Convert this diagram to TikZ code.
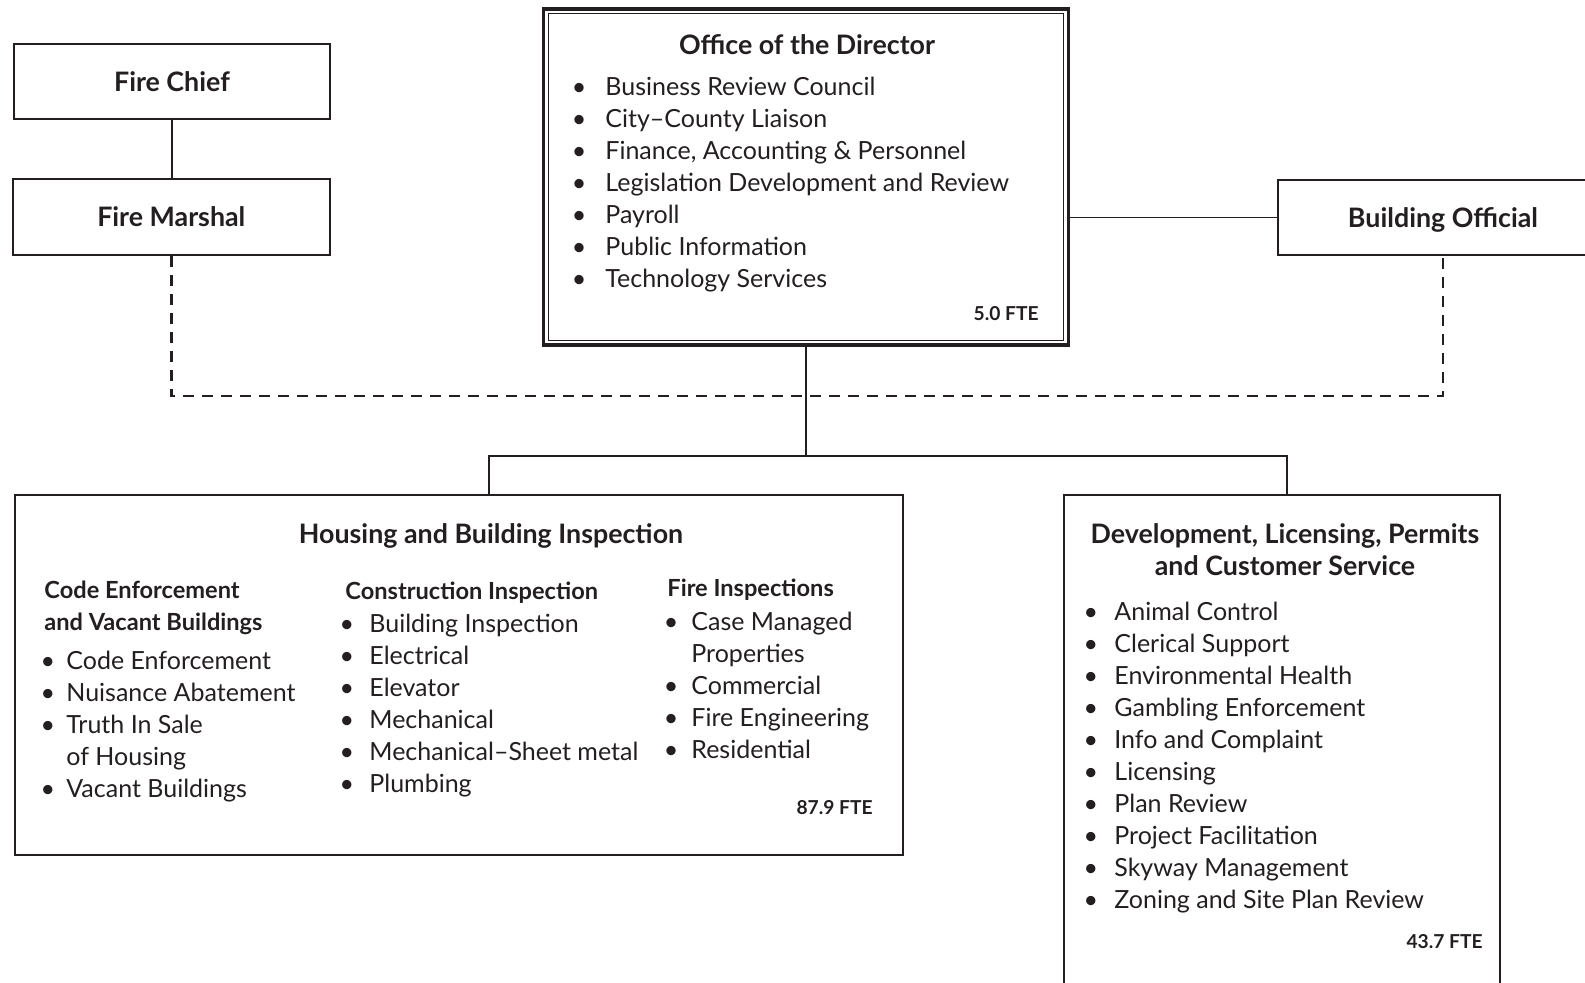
\documentclass[tikz,border=0pt]{standalone}
\usepackage{fontspec}
\setmainfont{Lato}

\definecolor{ink}{RGB}{35,31,32}

\newlength{\blgap}
\newcommand{\bl}{\llap{\textbullet\hspace{\blgap}}}
\newcommand{\bodyfont}{\fontsize{12.5}{16}\selectfont}
\newcommand{\headfont}{\fontsize{13.4}{16}\selectfont\bfseries}
\newcommand{\subfont}{\fontsize{11.8}{16}\selectfont\bfseries}
\newcommand{\ftefont}{\fontsize{9.6}{12}\selectfont\bfseries}

\begin{document}
\begin{tikzpicture}[x=0.5pt,y=-0.5pt]

    \tikzset{
      box/.style={
        draw=ink,
        line width=1pt,
        inner sep=0pt,
        text=ink,
      },
      title/.style={
        font=\headfont,
        text height=10pt,
        text depth=0pt,
      },
      list/.style={
        anchor=base west,
        align=left,
        inner sep=0pt,
        text=ink,
        font=\bodyfont,
      },
      subhead/.style={
        anchor=base west,
        align=left,
        inner sep=0pt,
        text=ink,
        font=\subfont,
      },
      fte/.style={
        anchor=base east,
        inner sep=0pt,
        text=ink,
        font=\ftefont,
      },
      link/.style={draw=ink, line width=0.8pt},
      dashline/.style={draw=ink, line width=1.25pt, dash pattern=on 5.5pt off 4pt},
    }

	\useasboundingbox (0,0) rectangle (1585,983);

	% fire side
	\node[box,title,minimum width=158pt,minimum height=37.5pt] (fc) at (172,81.6) {Fire Chief};
	\node[box,title,minimum width=158.6pt,minimum height=38pt] (fm) at (171.3,217) {Fire Marshal};
	\draw[link] (fc.south) -- (fc.south |- fm.north);

	% director (multi-line nodes sit on their last baseline)
	\node[box,line width=1.6pt,minimum width=262.5pt,minimum height=168pt] (dir) at (806,177) {};
	\draw[draw=ink,line width=0.5pt] ([shift={(3.2pt,-3.2pt)}]dir.north west) rectangle ([shift={(-3.2pt,3.2pt)}]dir.south east);
	\node[anchor=base,inner sep=0pt,text=ink,font=\headfont] (dir-t) at (807,55) {Office of the Director};
	\node[list,execute at begin node={\setlength{\blgap}{9.5pt}}] (dir-l) at (605,288) {%
	  \bl Business Review Council\\
	  \bl City–County Liaison\\
	  \bl Finance, Accounting \& Personnel\\
	  \bl Legislation Development and Review\\
	  \bl Payroll\\
	  \bl Public Information\\
	  \bl Technology Services};
	\node[fte] (dir-f) at (1039,321) {5.0 FTE};

	% building official
	\node[box,title,minimum width=165pt,minimum height=37.5pt] (bo) at (1443,217.5) {Building Official};
	\draw[link] (bo.west) -- (bo.west -| dir.east);

	% dashed tie
	\coordinate (dl) at (1443,396);
	\draw[dashline] (fm.south) |- (dl) -- (bo.south);

	% housing and building inspection
	\node[box,minimum width=444pt,minimum height=180pt] (hbi) at (459,675) {};
	\node[anchor=base,inner sep=0pt,text=ink,font=\headfont] (hbi-t) at (491,544) {Housing and Building Inspection};
	\node[subhead] (hbi-ce) at (44,631) {Code Enforcement\\and Vacant Buildings};
	\node[list,execute at begin node={\setlength{\blgap}{5.6pt}}] (hbi-ce-l) at (66,797) {%
	  \bl Code Enforcement\\
	  \bl Nuisance Abatement\\
	  \bl Truth In Sale\\
	  of Housing\\
	  \bl Vacant Buildings};
	\node[subhead] (hbi-ci) at (345,600) {Construction Inspection};
	\node[list,execute at begin node={\setlength{\blgap}{7.7pt}}] (hbi-ci-l) at (369,792) {%
	  \bl Building Inspection\\
	  \bl Electrical\\
	  \bl Elevator\\
	  \bl Mechanical\\
	  \bl Mechanical–Sheet metal\\
	  \bl Plumbing};
	\node[subhead] (hbi-fi) at (667,597) {Fire Inspections};
	\node[list,execute at begin node={\setlength{\blgap}{6.5pt}}] (hbi-fi-l) at (691,758) {%
	  \bl Case Managed\\
	  Properties\\
	  \bl Commercial\\
	  \bl Fire Engineering\\
	  \bl Residential};
	\node[fte] (hbi-f) at (873,814) {87.9 FTE};

	% development, licensing, permits
	\node[box,minimum width=218pt,minimum height=260pt] (dlp) at (1282,755) {};
	\node[anchor=base,align=center,inner sep=0pt,text=ink,font=\headfont] (dlp-t) at (1285,576) {Development, Licensing, Permits\\and Customer Service};
	\node[list,execute at begin node={\setlength{\blgap}{8.1pt}}] (dlp-l) at (1114,908) {%
	  \bl Animal Control\\
	  \bl Clerical Support\\
	  \bl Environmental Health\\
	  \bl Gambling Enforcement\\
	  \bl Info and Complaint\\
	  \bl Licensing\\
	  \bl Plan Review\\
	  \bl Project Facilitation\\
	  \bl Skyway Management\\
	  \bl Zoning and Site Plan Review};
	\node[fte] (dlp-f) at (1483,948) {43.7 FTE};

	% tree below director
	\coordinate (bl) at (489,456);
	\coordinate (br) at (1287,456);
	\draw[link] (dir.south) -- (dir.south |- bl);
	\draw[link] (bl |- hbi.north) -- (bl) -- (br) -- (br |- dlp.north);

\end{tikzpicture}
\end{document}
